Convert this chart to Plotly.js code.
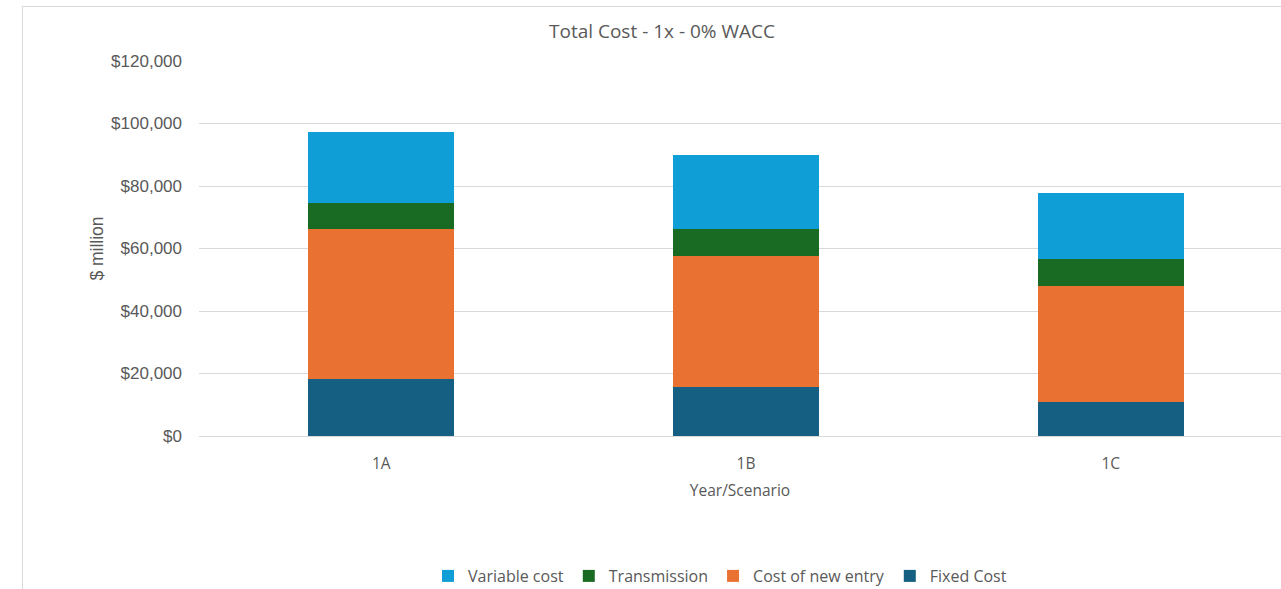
<!DOCTYPE html>
<html>
<head>
<meta charset="utf-8">
<script src="https://cdn.plot.ly/plotly-3.0.1.min.js"></script>
<style>
  html, body { margin: 0; padding: 0; background: #ffffff; overflow: hidden; }
  #chart { width: 1281px; height: 589px; position: absolute; left: 0; top: 0; }
  #frame { position: absolute; left: 22px; top: 6px; width: 1400px; height: 700px;
           border-left: 1px solid #d9d9d9; border-top: 1px solid #d9d9d9; pointer-events: none; }
</style>
</head>
<body>
<div id="chart"></div>
<div id="frame"></div>
<script>
// Scenarios on the x axis
const scenarios = ['1A', '1B', '1C'];

// Cost components, $ million
const fixedCost = [18100, 15800, 10800];
const costOfNewEntry = [48000, 41800, 37200];
const transmission = [8400, 8500, 8500];
const variableCost = [22700, 23800, 21200];

// Y axis ticks
const yTickVals = [0, 20000, 40000, 60000, 80000, 100000, 120000];
const yTickText = ['$0', '$20,000', '$40,000', '$60,000', '$80,000', '$100,000', '$120,000'];

const textFont = '"Open Sans", Lato, sans-serif';
const numFont = '"Liberation Sans", Arial, sans-serif';
const grey = '#595959';

function series(name, values, color) {
  return {
    type: 'bar',
    name: name,
    x: scenarios,
    y: values,
    marker: { color: color, line: { width: 0 } },
    hoverinfo: 'skip'
  };
}

const traces = [
  series('Fixed Cost', fixedCost, '#156082'),
  series('Cost of new entry', costOfNewEntry, '#E97132'),
  series('Transmission', transmission, '#196B24'),
  series('Variable cost', variableCost, '#0F9ED5')
];

const layout = {
  width: 1281,
  height: 589,
  margin: { l: 199, r: 0, t: 61, b: 153, pad: 0, autoexpand: false },
  paper_bgcolor: '#ffffff',
  plot_bgcolor: '#ffffff',
  barmode: 'stack',
  bargap: 0.6,
  showlegend: true,
  title: {
    text: 'Total Cost - 1x - 0% WACC',
    font: { family: textFont, size: 19, color: grey },
    x: 662 / 1281,
    xanchor: 'center',
    xref: 'container',
    y: 1 - 31 / 589,
    yanchor: 'middle',
    yref: 'container'
  },
  xaxis: {
    type: 'category',
    range: [-0.5, 2.467],
    showgrid: false,
    showline: false,
    zeroline: false,
    ticks: '',
    ticklabelstandoff: 16,
    tickfont: { family: textFont, size: 15.5, color: grey },
    title: {
      text: 'Year/Scenario',
      font: { family: textFont, size: 15.5, color: grey },
      standoff: 12
    }
  },
  yaxis: {
    range: [0, 120000],
    tickvals: yTickVals,
    ticktext: yTickText,
    showgrid: true,
    gridcolor: '#d9d9d9',
    gridwidth: 1,
    zeroline: true,
    zerolinecolor: '#d9d9d9',
    zerolinewidth: 1,
    showline: false,
    ticks: '',
    ticklabelstandoff: 16,
    tickfont: { family: numFont, size: 17, color: grey },
    title: {
      text: '$ million',
      font: { family: numFont, size: 17.5, color: grey },
      standoff: 2
    }
  },
  legend: {
    orientation: 'h',
    traceorder: 'reversed',
    x: (428 - 199) / 1082,
    xanchor: 'left',
    y: (436 - 576) / 375,
    yanchor: 'middle',
    font: { family: textFont, size: 16, color: grey },
    bgcolor: 'rgba(0,0,0,0)'
  }
};

Plotly.newPlot('chart', traces, layout, { staticPlot: true, displayModeBar: false });
</script>
</body>
</html>
